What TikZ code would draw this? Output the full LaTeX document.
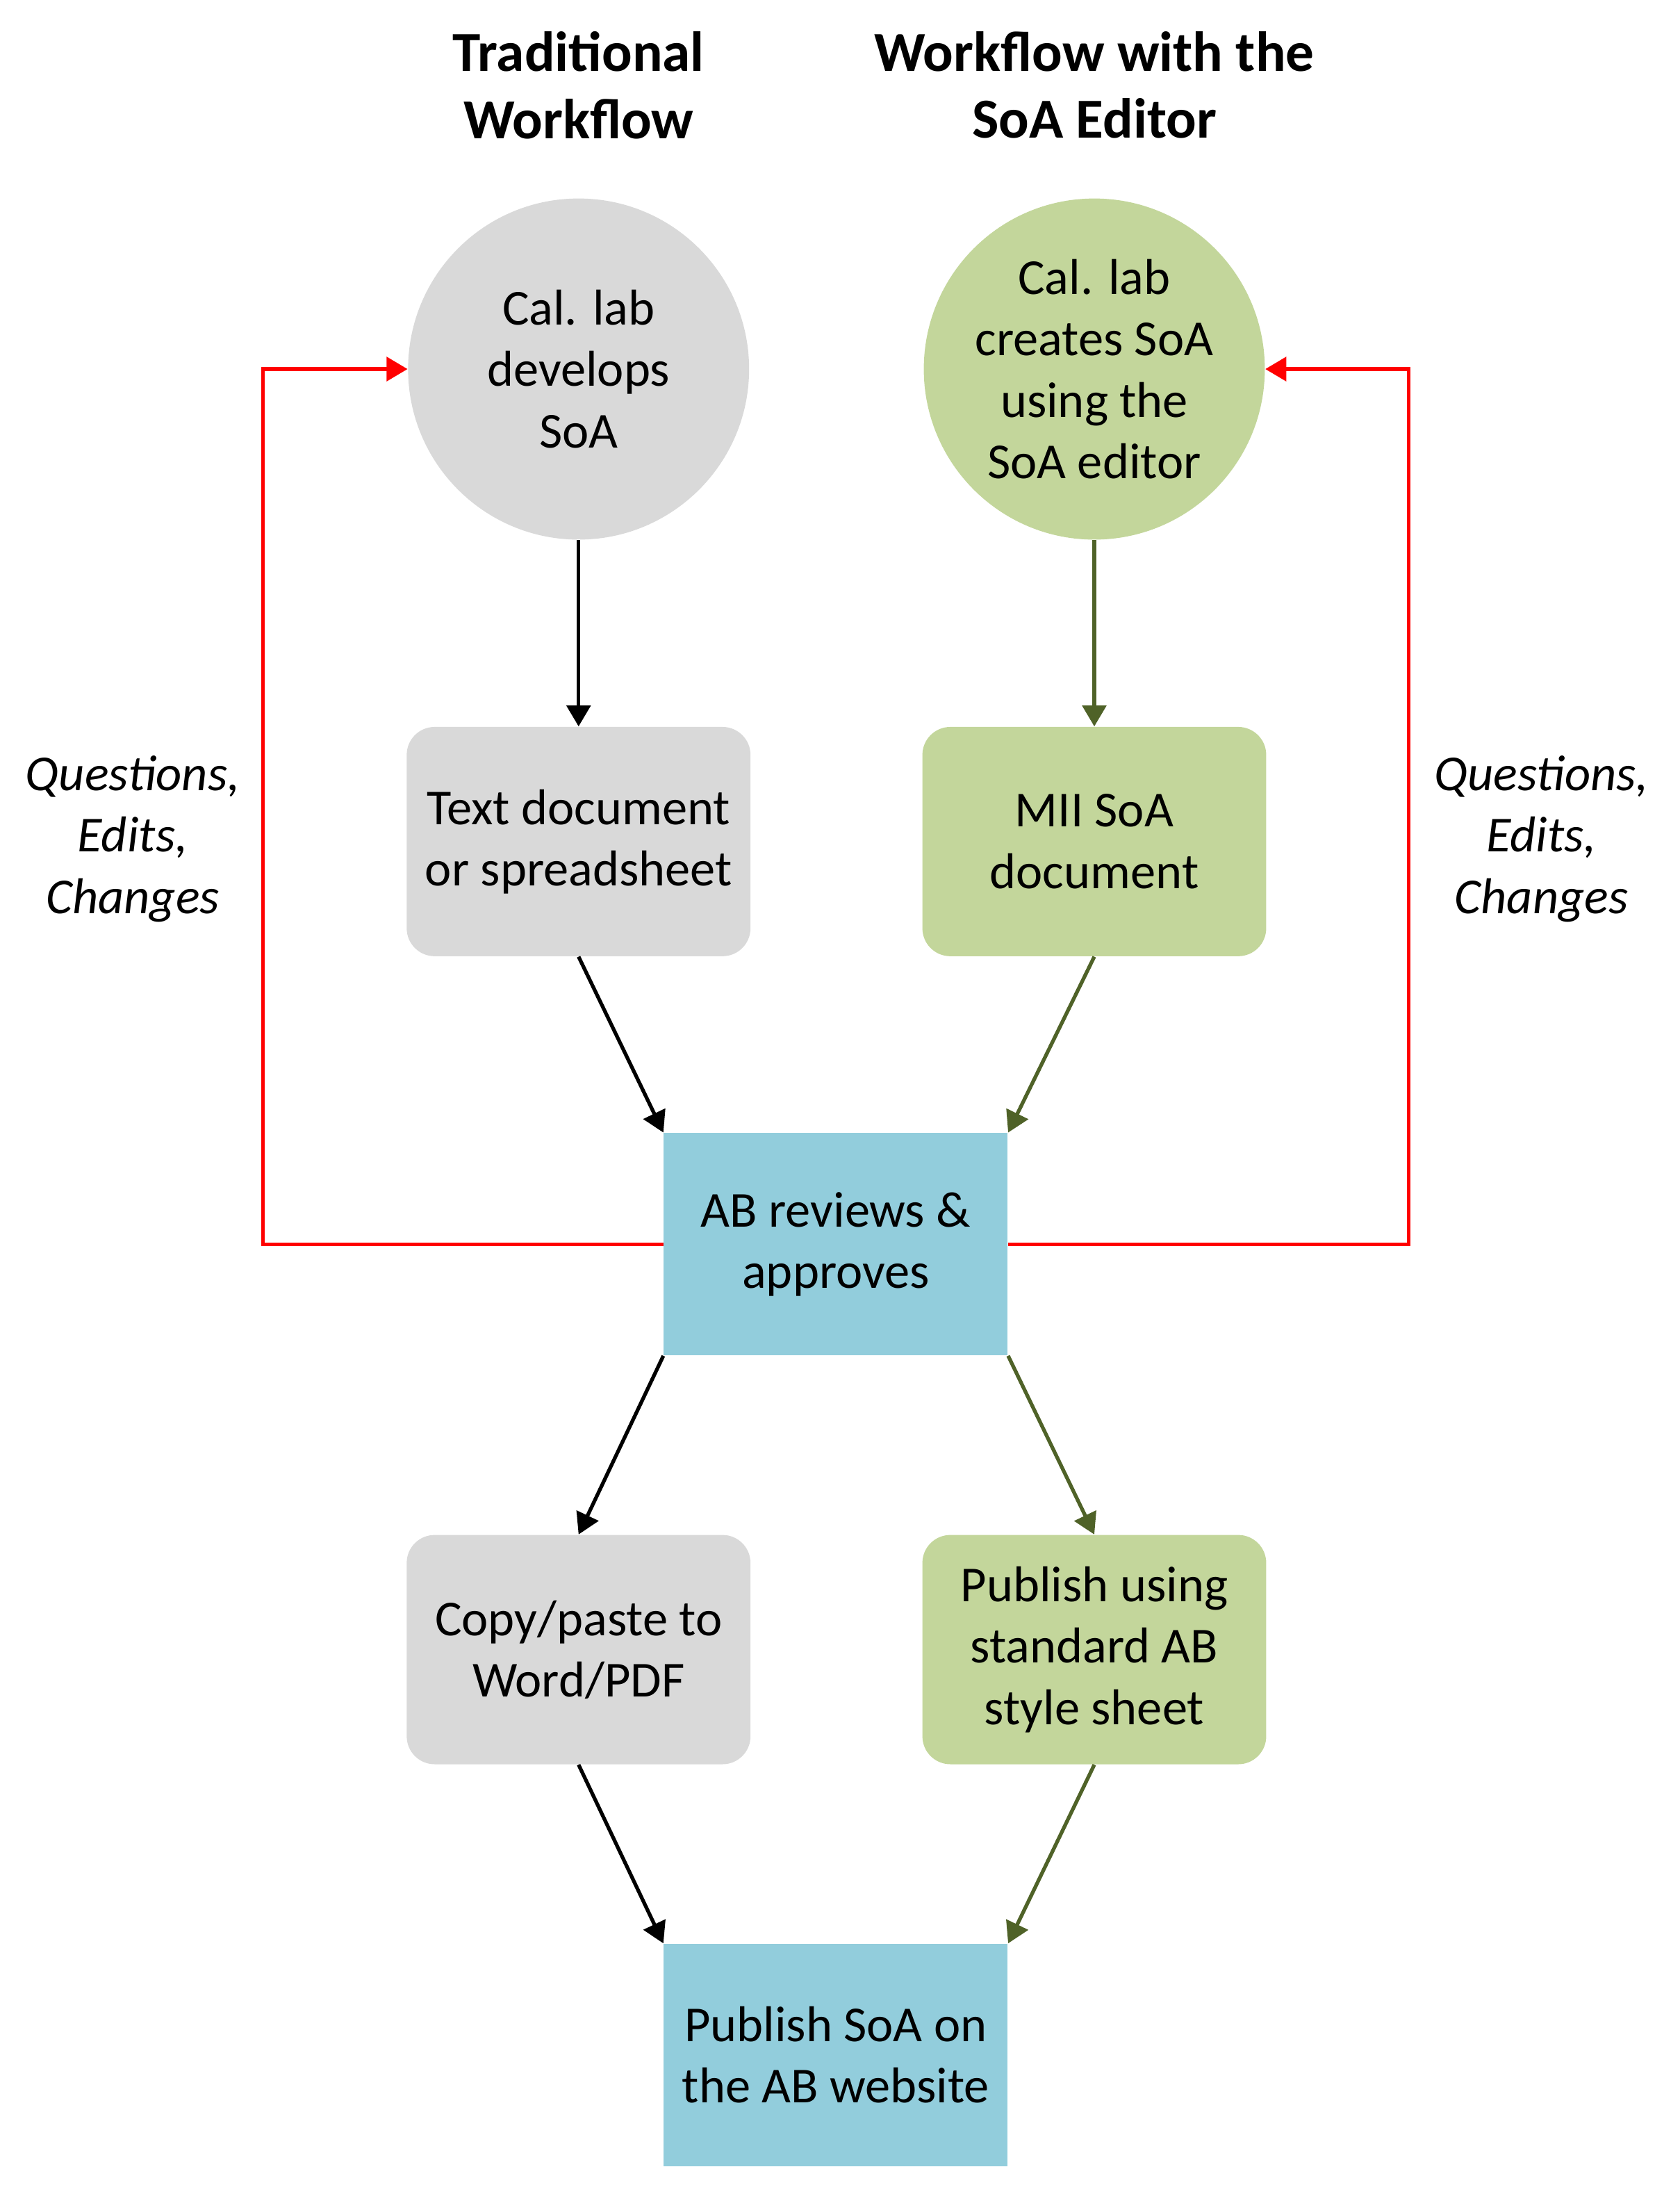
\documentclass[tikz,border=0pt]{standalone}
\usepackage{fontspec}
\setmainfont{Carlito}
\usetikzlibrary{arrows.meta}

\definecolor{soagray}{HTML}{D9D9D9}
\definecolor{soagreen}{HTML}{C3D69B}
\definecolor{soablue}{HTML}{92CDDC}
\definecolor{soadarkgreen}{HTML}{4F6228}

\newcommand\soatextstyle{\fontsize{20.5}{25}\selectfont}
\newcommand\soatitlestyle{\fontsize{23}{27.2}\selectfont\bfseries}
\newcommand\soacommentstyle{\fontsize{20.5}{25}\selectfont\itshape}
\newcommand\soaboxwidth{4.92cm}
\newcommand\soaboxheight{3.28cm}
\newcommand\soacircle{4.88cm}

\tikzset{
  soabox/.style={rectangle, minimum width=\soaboxwidth, minimum height=\soaboxheight,
    align=center, font=\soatextstyle, inner sep=0pt},
  graybox/.style={soabox, fill=soagray, rounded corners=0.4cm},
  greenbox/.style={soabox, fill=soagreen, rounded corners=0.4cm},
  bluebox/.style={soabox, fill=soablue, minimum height=3.18cm},
  soaround/.style={circle, minimum size=\soacircle, align=center, font=\soatextstyle, inner sep=0pt},
  soatip/.style={-{Triangle[length=0.3cm, width=0.34cm]}, line width=1.5pt},
  blackarrow/.style={soatip, black},
  greenarrow/.style={soatip, soadarkgreen},
  redarrow/.style={soatip, red},
}

\begin{document}
\begin{tikzpicture}
  \useasboundingbox (0, 0) rectangle (24.04, -31.36);
  % headings
  \node[align=center, font=\soatitlestyle] (tradtitle) at (8.28, -1.22) {Traditional\\Workflow};
  \node[align=center, font=\soatitlestyle] (edittitle) at (15.66, -1.22) {Workflow with the\\SoA Editor};
  % traditional column
  \node[soaround, fill=soagray] (labdev) at (8.28, -5.28) {Cal. lab\\develops\\SoA};
  \node[graybox] (textdoc) at (8.28, -12.04) {Text document\\or spreadsheet};
  \node[graybox] (copypaste) at (8.28, -23.6) {Copy/paste to\\Word/PDF};
  % editor column
  \node[soaround, fill=soagreen] (labcreate) at (15.66, -5.28) {Cal. lab\\creates SoA\\using the\\SoA editor};
  \node[greenbox] (miidoc) at (15.66, -12.04) {MII SoA\\document};
  \node[greenbox] (stylesheet) at (15.66, -23.6) {Publish using\\standard AB\\style sheet};
  % shared steps
  \node[bluebox] (review) at (11.96, -17.8) {AB reviews \&\\approves};
  \node[bluebox] (website) at (11.96, -29.4) {Publish SoA on\\the AB website};
  % feedback labels
  \node[align=center, font=\soacommentstyle] (leftnote) at (1.9, -12.0) {Questions,\\Edits,\\Changes};
  \node[align=center, font=\soacommentstyle] (rightnote) at (22.06, -12.0) {Questions,\\Edits,\\Changes};
  \coordinate (loopleft) at (3.76, -5.28);
  \coordinate (loopright) at (20.16, -5.28);

  \draw[blackarrow] (labdev) -- (textdoc);
  \draw[blackarrow] (textdoc.south) -- (review.north west);
  \draw[blackarrow] (review.south west) -- (copypaste.north);
  \draw[blackarrow] (copypaste.south) -- (website.north west);
  \draw[greenarrow] (labcreate) -- (miidoc);
  \draw[greenarrow] (miidoc.south) -- (review.north east);
  \draw[greenarrow] (review.south east) -- (stylesheet.north);
  \draw[greenarrow] (stylesheet.south) -- (website.north east);
  \draw[redarrow] (review.west) -| (loopleft) -- (labdev.west);
  \draw[redarrow] (review.east) -| (loopright) -- (labcreate.east);
\end{tikzpicture}
\end{document}
